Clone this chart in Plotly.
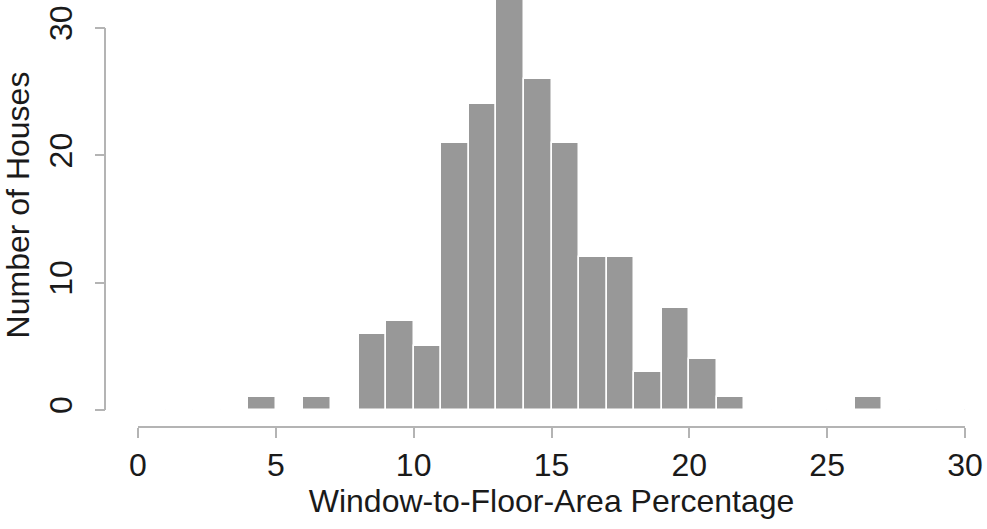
import plotly.graph_objects as go

# Histogram bins (width 1) from 0 to 30
bin_starts = list(range(0, 30))
counts = [0, 0, 0, 0, 1, 0, 1, 0, 6, 7,
          5, 21, 24, 33, 26, 21, 12, 12, 3, 8,
          4, 1, 0, 0, 0, 0, 1, 0, 0, 0]
x_ticks = [0, 5, 10, 15, 20, 25, 30]
y_ticks = [0, 10, 20, 30]
x_title = "Window-to-Floor-Area Percentage"
y_title = "Number of Houses"

W, H = 987, 529
FONT = "Liberation Sans, Arial, sans-serif"
AXIS_COL = "#b4b4b4"
TXT = "#1a1a1a"
FS = 32

def px(x):  # screen x -> paper
    return x / W

def py(y):  # screen y -> paper
    return (H - y) / H

ppu = 12.73  # pixels per count unit
y_top = 410 / ppu

centers = [b + 0.5 for b in bin_starts]

fig = go.Figure()
fig.add_trace(go.Bar(
    x=centers, y=counts, width=[1] * len(centers),
    marker=dict(color="#989898", line=dict(color="white", width=1.5)),
    showlegend=False, hoverinfo="x+y",
))

# faint baseline of zero-height bins
fig.add_shape(type="line", xref="x", yref="y", x0=0, x1=30, y0=0, y1=0,
              line=dict(color="#e6e6e6", width=1), layer="below")
# detached y axis line spanning 0..30
fig.add_shape(type="line", xref="paper", yref="y", x0=px(105), x1=px(105),
              y0=0, y1=30, line=dict(color=AXIS_COL, width=2))

fig.update_layout(
    width=W, height=H,
    margin=dict(l=0, r=0, t=0, b=0),
    paper_bgcolor="white", plot_bgcolor="white",
    font=dict(family=FONT, size=FS, color=TXT),
    bargap=0,
    xaxis=dict(
        domain=[px(138), px(965)], range=[0, 30],
        anchor="free", position=py(427),
        tickvals=x_ticks, ticks="outside", ticklen=10, tickwidth=2,
        tickcolor=AXIS_COL, showline=True, linecolor=AXIS_COL, linewidth=2,
        showgrid=False, zeroline=False, automargin=False,
        ticklabeloverflow="allow",
        tickfont=dict(size=FS, family=FONT, color=TXT),
        title=dict(text=x_title, standoff=4,
                   font=dict(size=FS, family=FONT, color=TXT)),
    ),
    yaxis=dict(
        domain=[py(410), 1], range=[0, y_top],
        anchor="free", position=px(105),
        tickvals=y_ticks, ticks="outside", ticklen=10, tickwidth=2,
        tickcolor=AXIS_COL, showline=False, tickangle=-90,
        ticklabelstandoff=10, ticklabeloverflow="allow",
        showgrid=False, zeroline=False, automargin=False,
        tickfont=dict(size=FS, family=FONT, color=TXT),
        title=dict(text=y_title, standoff=6,
                   font=dict(size=FS, family=FONT, color=TXT)),
    ),
)

fig.write_html("out.html",
               config={"displayModeBar": False},
               post_script="document.body.style.margin='0';"
                           "document.body.style.overflow='hidden';")
